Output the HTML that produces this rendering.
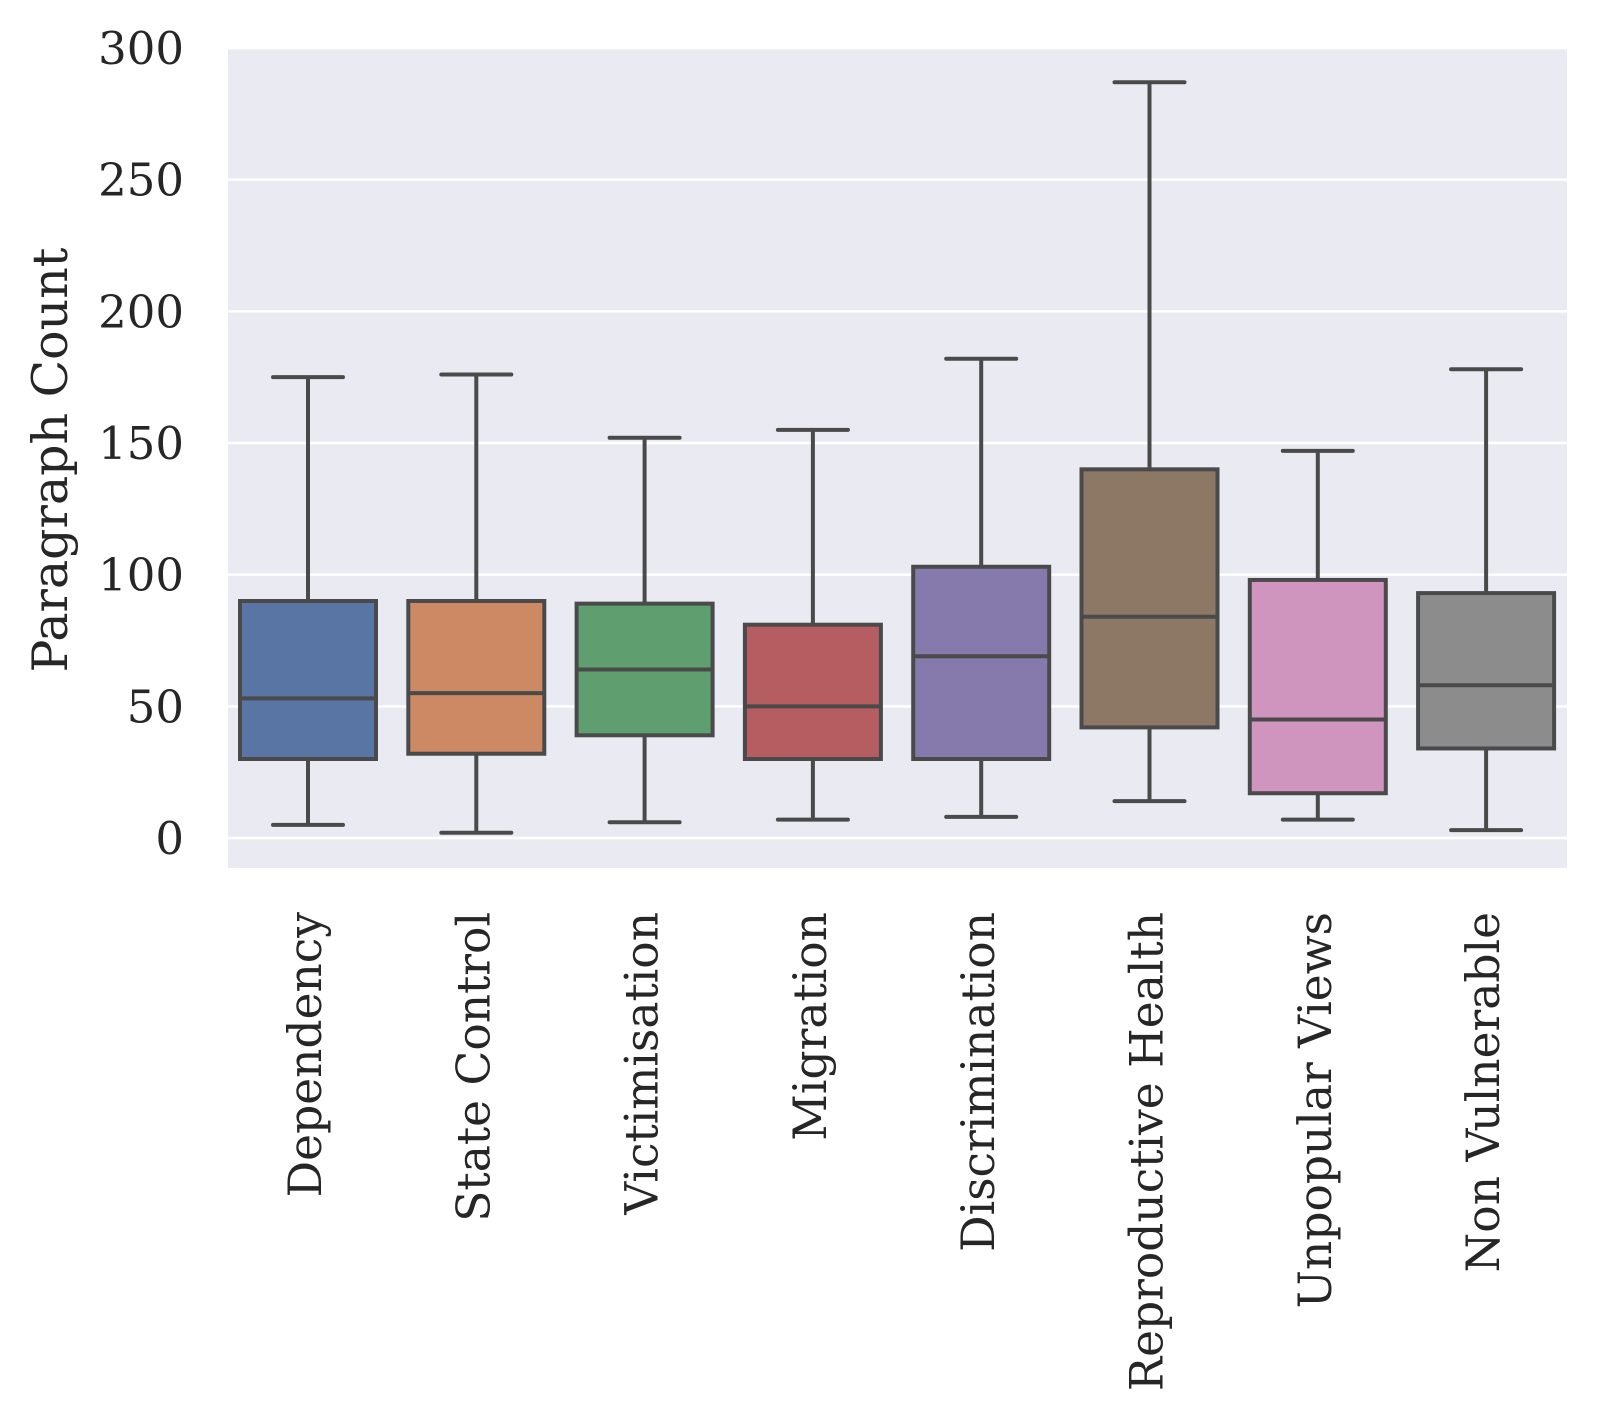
<!DOCTYPE html>
<html><head><meta charset="utf-8"><style>
body{margin:0;background:#fff;}
svg text{font-family:"DejaVu Serif","Liberation Serif",serif;fill:#262626;}
</style></head><body>
<svg width="1599" height="1422" xmlns="http://www.w3.org/2000/svg">
<rect x="228" y="48" width="1339" height="820" fill="#eaeaf2"/>
<g id="grid"></g><g id="yt"></g><g id="boxes"></g><g id="xt"></g>
<text transform="translate(67,460) rotate(-90)" text-anchor="middle" font-size="49">Paragraph Count</text>
</svg>
<script>
const categories=["Dependency","State Control","Victimisation","Migration","Discrimination","Reproductive Health","Unpopular Views","Non Vulnerable"];
const whiskerLow=[5,2,6,7,8,14,7,3];
const q1=[30,32,39,30,30,42,17,34];
const medians=[53,55,64,50,69,84,45,58];
const q3=[90,90,89,81,103,140,98,93];
const whiskerHigh=[175,176,152,155,182,287,147,178];
const yTicks=[0,50,100,150,200,250,300];
const colors=["#5875a4","#cc8963","#5f9e6e","#b55d60","#857aab","#8d7866","#d095bf","#8c8c8c"];
const NS="http://www.w3.org/2000/svg";
const y=v=>838-v*(838-48)/300;
const x=i=>308+i*168.3;
function mk(t,a,p){const e=document.createElementNS(NS,t);for(const k in a)e.setAttribute(k,a[k]);p.appendChild(e);return e;}
const grid=document.getElementById('grid'),yt=document.getElementById('yt'),bx=document.getElementById('boxes'),xt=document.getElementById('xt');
yTicks.forEach(v=>{
 const l=mk('line',{x1:228,x2:1567,y1:y(v),y2:y(v),stroke:'#fff','stroke-width':2.5},grid);
 
 
 const t=mk('text',{x:184,y:y(v)+16,'text-anchor':'end','font-size':45},yt);
 t.textContent=v;
 
 
});
categories.forEach((c,i)=>{
 const cx=x(i),hw=68,cw=35;
 const g=mk('g',{},bx);
 
 
 const s={stroke:'#4a4a4a','stroke-width':4};
 mk('line',Object.assign({x1:cx,x2:cx,y1:y(whiskerHigh[i]),y2:y(q3[i])},s),g);
 mk('line',Object.assign({x1:cx,x2:cx,y1:y(q1[i]),y2:y(whiskerLow[i])},s),g);
 mk('line',Object.assign({x1:cx-cw,x2:cx+cw,y1:y(whiskerHigh[i]),y2:y(whiskerHigh[i]),'stroke-linecap':'round'},s),g);
 mk('line',Object.assign({x1:cx-cw,x2:cx+cw,y1:y(whiskerLow[i]),y2:y(whiskerLow[i]),'stroke-linecap':'round'},s),g);
 mk('rect',Object.assign({x:cx-hw,y:y(q3[i]),width:2*hw,height:y(q1[i])-y(q3[i]),fill:colors[i]},s),g);
 mk('line',Object.assign({x1:cx-hw,x2:cx+hw,y1:y(medians[i]),y2:y(medians[i])},s),g);
 const t=mk('text',{transform:`translate(${cx+13},912) rotate(-90)`,'text-anchor':'end','font-size':45.5},xt);
 t.textContent=c;
 
 
});
</script>
</body></html>
